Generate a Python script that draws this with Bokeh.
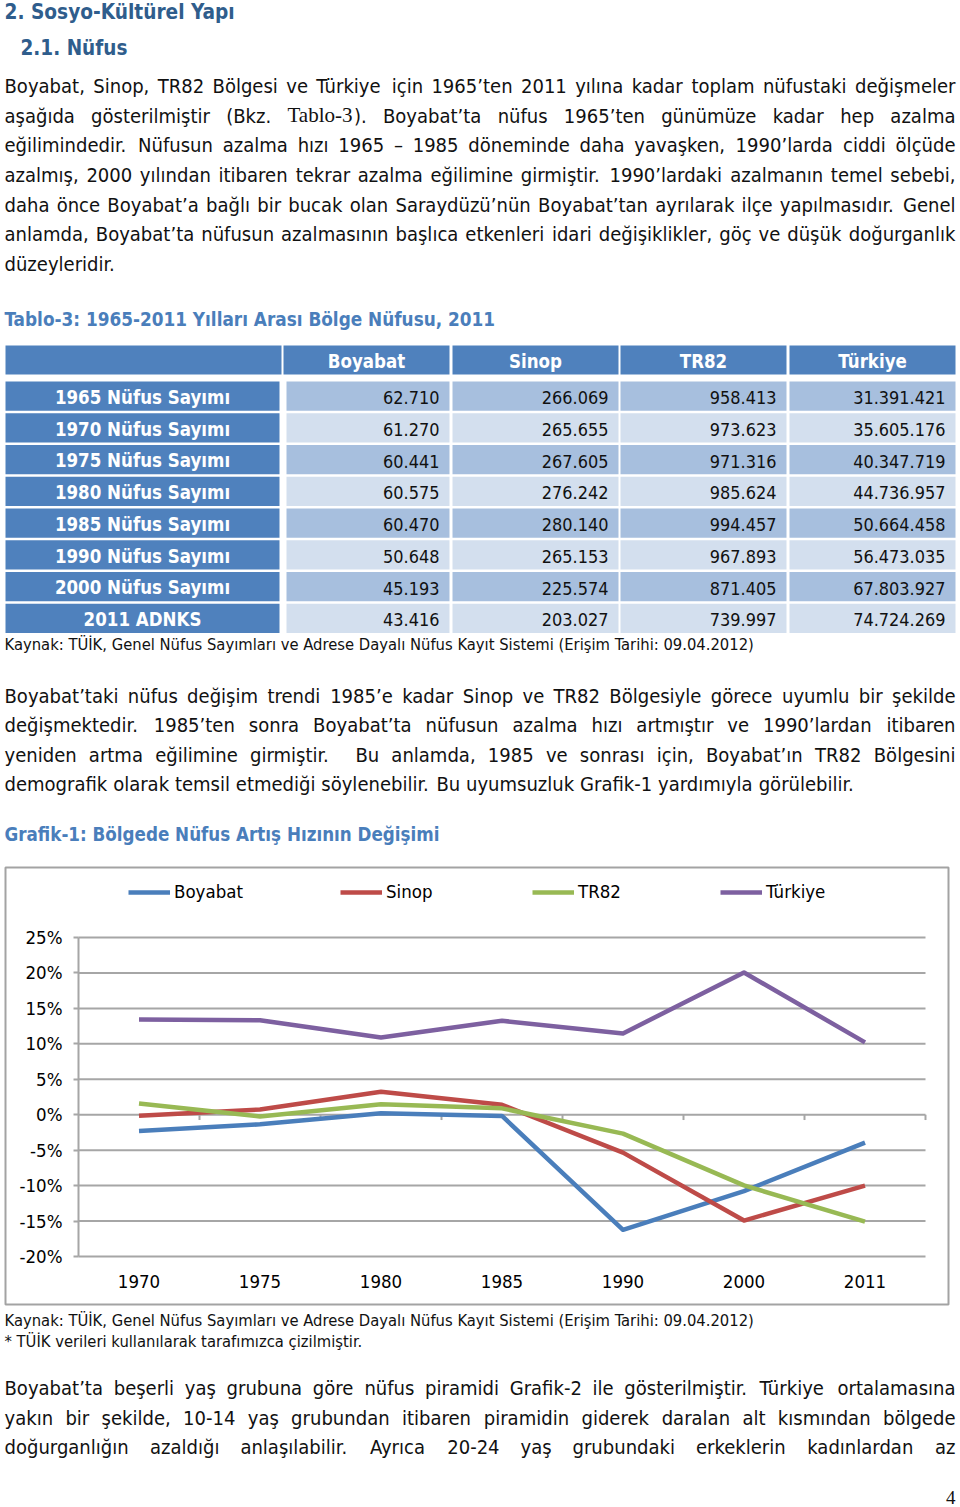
from bokeh.plotting import figure
from bokeh.models import (ColumnDataSource, Range1d, FixedTicker, PrintfTickFormatter,
                          Legend, LegendItem, LinearAxis)
from bokeh.layouts import column
from bokeh.embed import file_html
from bokeh.resources import INLINE
from bokeh.core.properties import value

# ---------------- data ----------------
table_columns = ["Boyabat", "Sinop", "TR82", "Türkiye"]
table_rows = ["1965 Nüfus Sayımı", "1970 Nüfus Sayımı", "1975 Nüfus Sayımı", "1980 Nüfus Sayımı",
              "1985 Nüfus Sayımı", "1990 Nüfus Sayımı", "2000 Nüfus Sayımı", "2011 ADNKS"]
pop_boyabat = [62710, 61270, 60441, 60575, 60470, 50648, 45193, 43416]
pop_sinop = [266069, 265655, 267605, 276242, 280140, 265153, 225574, 203027]
pop_tr82 = [958413, 973623, 971316, 985624, 994457, 967893, 871405, 739997]
pop_turkiye = [31391421, 35605176, 40347719, 44736957, 50664458, 56473035, 67803927, 74724269]

chart_years = ["1970", "1975", "1980", "1985", "1990", "2000", "2011"]
rate_boyabat = [-2.30, -1.35, 0.22, -0.17, -16.24, -10.77, -3.93]
rate_sinop = [-0.16, 0.73, 3.23, 1.41, -5.35, -14.93, -10.00]
rate_tr82 = [1.59, -0.24, 1.47, 0.90, -2.67, -9.97, -15.08]
rate_turkiye = [13.42, 13.32, 10.88, 13.25, 11.47, 20.06, 10.21]
y_ticks = [-20, -15, -10, -5, 0, 5, 10, 15, 20, 25]
series_names = ["Boyabat", "Sinop", "TR82", "Türkiye"]

heading1 = "2. Sosyo-Kültürel Yapı"
heading2 = "2.1. Nüfus"
para1 = [
    "Boyabat, Sinop, TR82 Bölgesi ve Türkiye için 1965’ten 2011 yılına kadar toplam nüfustaki değişmeler",
    "aşağıda gösterilmiştir (Bkz. {Tablo-3}). Boyabat’ta nüfus 1965’ten günümüze kadar hep azalma",
    "eğilimindedir. Nüfusun azalma hızı 1965 – 1985 döneminde daha yavaşken, 1990’larda ciddi ölçüde",
    "azalmış, 2000 yılından itibaren tekrar azalma eğilimine girmiştir. 1990’lardaki azalmanın temel sebebi,",
    "daha önce Boyabat’a bağlı bir bucak olan Saraydüzü’nün Boyabat’tan ayrılarak ilçe yapılmasıdır. Genel",
    "anlamda, Boyabat’ta nüfusun azalmasının başlıca etkenleri idari değişiklikler, göç ve düşük doğurganlık",
    "düzeyleridir.",
]
table_title = "Tablo-3: 1965-2011 Yılları Arası Bölge Nüfusu, 2011"
source_text = "Kaynak: TÜİK, Genel Nüfus Sayımları ve Adrese Dayalı Nüfus Kayıt Sistemi (Erişim Tarihi: 09.04.2012)"
para2 = [
    "Boyabat’taki nüfus değişim trendi 1985’e kadar Sinop ve TR82 Bölgesiyle görece uyumlu bir şekilde",
    "değişmektedir. 1985’ten sonra Boyabat’ta nüfusun azalma hızı artmıştır ve 1990’lardan itibaren",
    "yeniden artma eğilimine girmiştir.  Bu anlamda, 1985 ve sonrası için, Boyabat’ın TR82 Bölgesini",
    "demografik olarak temsil etmediği söylenebilir. Bu uyumsuzluk Grafik-1 yardımıyla görülebilir.",
]
chart_title = "Grafik-1: Bölgede Nüfus Artış Hızının Değişimi"
note_text = "* TÜİK verileri kullanılarak tarafımızca çizilmiştir."
para3 = [
    "Boyabat’ta beşerli yaş grubuna göre nüfus piramidi Grafik-2 ile gösterilmiştir. Türkiye ortalamasına",
    "yakın bir şekilde, 10-14 yaş grubundan itibaren piramidin giderek daralan alt kısmından bölgede",
    "doğurganlığın azaldığı anlaşılabilir. Ayrıca 20-24 yaş grubundaki erkeklerin kadınlardan az",
]
page_number = "4"

# ---------------- font metrics (approx., 2048 upm) ----------------
def mk(chars, vals):
    return dict(zip(chars, vals))

UP = "ABCDEFGHIJKLMNOPQRSTUVWXYZ"
LO = "abcdefghijklmnopqrstuvwxyz"
DV = mk(" ,.-:;()*%’'/–", [651, 651, 651, 739, 690, 690, 799, 799, 1024, 1946, 651, 563, 690, 1024])
DV.update({d: 1303 for d in "0123456789"})
DV.update(mk(UP, [1401, 1405, 1430, 1577, 1294, 1178, 1587, 1540, 604, 604, 1343, 1141, 1767, 1532,
                  1612, 1235, 1612, 1423, 1300, 1251, 1499, 1401, 2025, 1403, 1251, 1403]))
DV.update(mk(LO, [1255, 1300, 1126, 1300, 1260, 721, 1300, 1298, 569, 569, 1186, 569, 1995, 1298,
                  1253, 1300, 1300, 842, 1067, 803, 1298, 1212, 1675, 1212, 1212, 1075]))
DVB = mk(" ,.-:;()%’", [713, 780, 780, 852, 819, 819, 936, 936, 2052, 780])
DVB.update({d: 1425 for d in "0123456789"})
DVB.update(mk(UP, [1583, 1567, 1501, 1700, 1399, 1399, 1680, 1708, 764, 764, 1591, 1305, 2040, 1708,
                   1741, 1499, 1741, 1585, 1481, 1403, 1665, 1583, 2264, 1579, 1499, 1485]))
DVB.update(mk(LO, [1382, 1466, 1214, 1466, 1389, 891, 1466, 1458, 702, 702, 1362, 702, 2134, 1458,
                   1407, 1466, 1466, 1010, 1219, 979, 1458, 1335, 1886, 1321, 1335, 1192]))
DVC = {k: v * 0.9 for k, v in DV.items()}      # DejaVu Sans Condensed
DVBC = {k: v * 0.9 for k, v in DVB.items()}    # DejaVu Sans Condensed Bold
TM = mk("Tablo-3", [1251, 909, 1024, 569, 1024, 682, 1024])
TRMAP = str.maketrans("üöçşğıİÜÖÇŞĞ", "uocsgiIUOCSG")


def tw(s, table, size):
    s = s.translate(TRMAP)
    return sum(table.get(ch, 1200) for ch in s) / 2048.0 * size


def fit(s, table, width):
    return width / tw(s, table, 1.0)


SANS = "DejaVu Sans Condensed"
SERIF = "Liberation Serif"
INK = "#111111"
HEAD_BLUE = "#2f5d8c"
TITLE_BLUE = "#4a7ebb"
TBL_DARK = "#4f81bd"
TBL_MID = "#a7bfde"
TBL_LIGHT = "#d3dfee"
GRID = "#a6a6a6"
BOX = "#a3a3a3"
BASE_SHIFT = 0.35      # rendered alphabetic baseline sits this many em below y

PAGE_W = 960
BODY = (fit("düzeyleridir.", DVC, 111) + fit(para2[3], DVC, 861)) / 2


def canvas(y0, y1):
    p = figure(width=PAGE_W, height=y1 - y0, x_range=Range1d(0, PAGE_W), y_range=Range1d(y1, y0),
               output_backend="svg", toolbar_location=None, x_axis_type=None, y_axis_type=None,
               min_border=0, outline_line_color=None)
    p.grid.visible = False
    return p


def add_text(p, xs, ys, texts, font=SANS, size=18.0, color=INK, align="left", bold=False):
    src = ColumnDataSource(dict(x=xs, y=[y - BASE_SHIFT * size for y in ys], t=texts))
    p.text(x="x", y="y", text="t", source=src, text_font=value(font),
           text_font_size=value("%.2fpx" % size), text_color=color, text_align=align,
           text_baseline="alphabetic", text_font_style="bold" if bold else "normal")


def paragraph(p, lines, baselines, last_justified=False, left=4, right=955):
    size = BODY
    ssz = size * 1.05
    for i, (line, yb) in enumerate(zip(lines, baselines)):
        words = line.split(" ")
        just = (i < len(lines) - 1) or last_justified
        segs = []
        for w in words:
            if "{" in w:
                a, rest = w.split("{")
                b, c = rest.split("}")
                parts = [(a, SANS), (b, SERIF), (c, SANS)]
            else:
                parts = [(w, SANS)]
            segs.append([pp for pp in parts if pp[0]])

        def pw(t, f):
            return tw(t, TM, ssz) if f == SERIF else tw(t, DVC, size)
        widths = [sum(pw(t, f) for t, f in s) for s in segs]
        if just and len(words) > 1:
            gap = (right - left - sum(widths)) / (len(words) - 1)
        else:
            gap = tw(" ", DVC, size)
        x = left
        for k, (parts, wd) in enumerate(zip(segs, widths)):
            if just and k == len(segs) - 1 and len(segs) > 1 and len(parts) == 1:
                add_text(p, [right], [yb], [parts[0][0]], size=size, align="right")
            else:
                xx = x
                for t, f in parts:
                    add_text(p, [xx], [yb], [t], font=f, size=ssz if f == SERIF else size)
                    xx += pw(t, f)
            x += wd + gap


# ================= top section (page y 0..862) =================
top = canvas(0, 862)
add_text(top, [4], [18.5], [heading1], size=fit(heading1, DVBC, 233), color=HEAD_BLUE, bold=True)
add_text(top, [20], [54.5], [heading2], size=fit(heading2, DVBC, 107), color=HEAD_BLUE, bold=True)
paragraph(top, para1, [92.5 + 29.7 * i for i in range(len(para1))])
add_text(top, [4], [326], [table_title], size=fit(table_title, DVBC, 494), color=TITLE_BLUE, bold=True)

# table
hdr_x = [(5, 281), (283, 449), (452, 618), (620, 786), (789, 955)]
lab_x = (5, 279)
dat_x = [(286, 449), (452, 618), (620, 786), (789, 955)]
hdr_top, hdr_bot = 345, 374
row_top = [381 + 31.76 * i for i in range(len(table_rows))]
row_h = 29.3

top.quad(left=[a for a, b in hdr_x], right=[b for a, b in hdr_x],
         top=[hdr_top] * 5, bottom=[hdr_bot] * 5, fill_color=TBL_DARK, line_color=None)
top.quad(left=[lab_x[0]] * len(table_rows), right=[lab_x[1]] * len(table_rows),
         top=row_top, bottom=[t + row_h for t in row_top], fill_color=TBL_DARK, line_color=None)
cl, cr, ct, cb, cc = [], [], [], [], []
for i, t in enumerate(row_top):
    for a, b in dat_x:
        cl.append(a); cr.append(b); ct.append(t); cb.append(t + row_h)
        cc.append(TBL_MID if i % 2 == 0 else TBL_LIGHT)
top.quad(left=cl, right=cr, top=ct, bottom=cb, fill_color=cc, line_color=None)

bold_tbl = fit("1965 Nüfus Sayımı", DVBC, 176)
reg_tbl = fit("31.391.421", DVC, 92.5)
add_text(top, [(a + b) / 2 for a, b in hdr_x[1:]], [367.5] * 4, table_columns,
         size=bold_tbl, color="white", align="center", bold=True)
add_text(top, [142] * len(table_rows), [t + 22.3 for t in row_top], table_rows,
         size=bold_tbl, color="white", align="center", bold=True)
fmt = lambda v: f"{v:,}".replace(",", ".")
for (a, b), vals in zip(dat_x, [pop_boyabat, pop_sinop, pop_tr82, pop_turkiye]):
    add_text(top, [b - 10] * len(vals), [t + 22.3 for t in row_top], [fmt(v) for v in vals],
             size=reg_tbl, align="right")

SRC_SIZE = fit(source_text, DVC, 754)
add_text(top, [4], [650], [source_text], size=SRC_SIZE)
paragraph(top, para2, [702.7 + 29.25 * i for i in range(len(para2))])
add_text(top, [4], [841], [chart_title], size=fit(chart_title, DVBC, 436), color=TITLE_BLUE, bold=True)

# ================= chart (page y 862..1309, x 0..953) =================
CH_W, CH_H, CH_Y0 = 953, 447, 862
cat_px = (925 - 78) / 7.0            # px per category
pct_px = (1256 - 937) / 45.0         # px per percent
x_start = -0.5 - 78 / cat_px
y_end = 25 + (937 - CH_Y0) / pct_px
idx = list(range(len(chart_years)))
ch = figure(width=CH_W, height=CH_H,
            x_range=Range1d(x_start, x_start + CH_W / cat_px),
            y_range=Range1d(y_end - CH_H / pct_px, y_end),
            output_backend="svg", toolbar_location=None, x_axis_type=None, y_axis_type=None,
            min_border=0, outline_line_color=None,
            background_fill_color="white", border_fill_color="white")
ch.grid.visible = False

LBL = "18.5px"
yax = LinearAxis(ticker=FixedTicker(ticks=y_ticks), formatter=PrintfTickFormatter(format="%d%%"),
                 fixed_location=-0.5, axis_line_color=None, major_tick_line_color=GRID,
                 major_tick_line_width=2, major_tick_out=5, major_tick_in=0,
                 minor_tick_line_color=None, major_label_standoff=11,
                 major_label_text_font=SANS, major_label_text_font_size=LBL,
                 major_label_text_color="#000000")
ch.add_layout(yax, "left")
xax = LinearAxis(ticker=FixedTicker(ticks=idx),
                 major_label_overrides={i: y for i, y in zip(idx, chart_years)},
                 fixed_location=-20, axis_line_color=None, major_tick_line_color=None,
                 minor_tick_line_color=None, major_label_standoff=12,
                 major_label_text_font=SANS, major_label_text_font_size=LBL,
                 major_label_text_color="#000000")
ch.add_layout(xax, "below")

# chart border box (page px 4..949 x 866..1305)
ch.quad(left=[x_start + 5 / cat_px], right=[x_start + 948 / cat_px],
        top=[y_end - (867 - CH_Y0) / pct_px], bottom=[y_end - (1304 - CH_Y0) / pct_px],
        fill_color=None, line_color=BOX, line_width=2)

# horizontal gridlines at the value ticks, the value-axis line and category ticks along 0%
n = len(y_ticks)
ch.segment(x0=[-0.5] * n, y0=y_ticks, x1=[6.5] * n, y1=y_ticks, line_color=GRID, line_width=2)
ch.segment(x0=[-0.5], y0=[min(y_ticks)], x1=[-0.5], y1=[max(y_ticks)], line_color=GRID, line_width=2)
bnd = [i + 0.5 for i in idx]
ch.segment(x0=bnd, y0=[0] * len(bnd), x1=bnd, y1=[-0.75] * len(bnd), line_color=GRID, line_width=2)

colors = ["#4a7ebb", "#be4b48", "#98b954", "#7d60a0"]
legend_x = [128, 340, 532, 720]
for name, rates, col, lx in zip(series_names, [rate_boyabat, rate_sinop, rate_tr82, rate_turkiye],
                                colors, legend_x):
    r = ch.line(idx, rates, line_color=col, line_width=4.5, line_join="round")
    leg = Legend(items=[LegendItem(label=name, renderers=[r])], location=(lx, 407),
                 orientation="horizontal", border_line_color=None, background_fill_alpha=0,
                 padding=0, margin=0, glyph_width=42, glyph_height=20, label_standoff=4,
                 label_height=20, label_text_font=SANS, label_text_font_size=LBL,
                 label_text_color="#000000")
    ch.add_layout(leg)

# ================= bottom section (page y 1309..1507) =================
bot = canvas(1309, 1507)
add_text(bot, [4], [1326], [source_text], size=SRC_SIZE)
add_text(bot, [4], [1347], [note_text], size=SRC_SIZE)
paragraph(bot, para3, [1395 + 29.2 * i for i in range(len(para3))], last_justified=True)
add_text(bot, [955], [1504], [page_number], font=SERIF, size=19, align="right")

p = column(top, ch, bot)
open("out.html", "w").write(file_html(p, INLINE))
